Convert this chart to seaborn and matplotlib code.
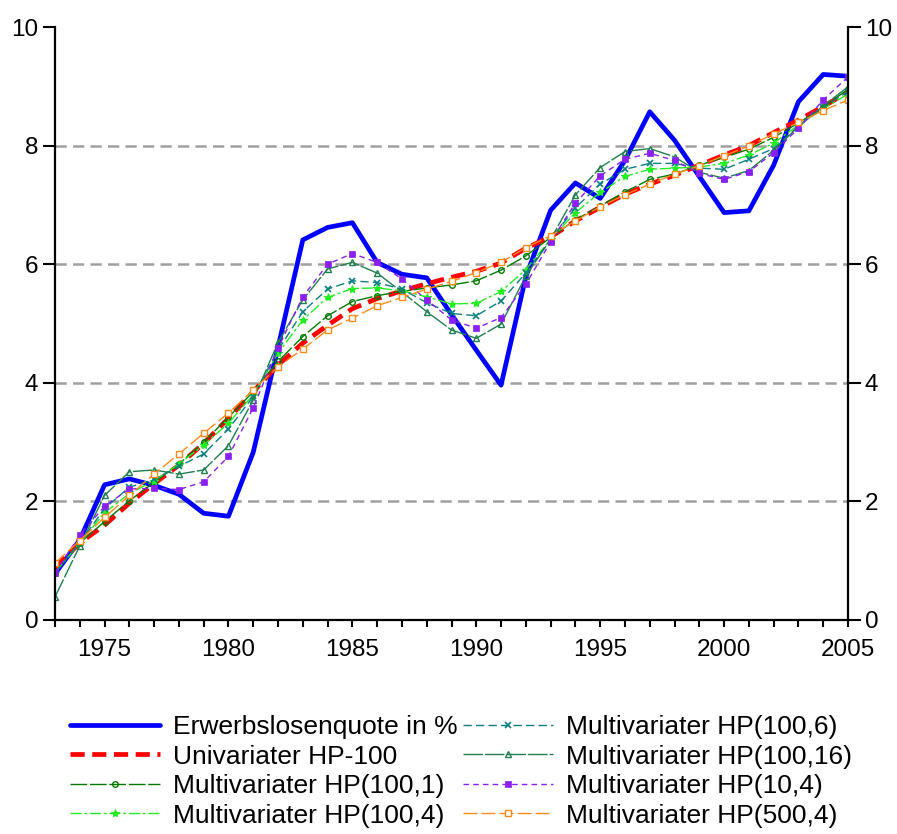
import numpy as np
import pandas as pd
import matplotlib
matplotlib.use("Agg")
import matplotlib.pyplot as plt
import seaborn as sns

years = list(range(1973, 2006))

erwerbslosenquote = [0.78, 1.35, 2.28, 2.38, 2.27, 2.12, 1.80, 1.75, 2.83, 4.60, 6.41, 6.62, 6.70,
                     6.03, 5.83, 5.77, 5.15, 4.55, 3.96, 5.79, 6.91, 7.37, 7.11, 7.75, 8.57, 8.09,
                     7.48, 6.87, 6.90, 7.67, 8.74, 9.20, 9.17]
uni_hp100 = [0.88, 1.30, 1.60, 1.97, 2.30, 2.61, 2.98, 3.40, 3.85, 4.30, 4.67, 4.97, 5.25,
             5.42, 5.55, 5.67, 5.78, 5.88, 6.02, 6.27, 6.46, 6.73, 6.96, 7.18, 7.35, 7.50,
             7.67, 7.84, 8.00, 8.22, 8.43, 8.66, 8.90]
mhp_100_1 = [0.80, 1.30, 1.66, 2.01, 2.32, 2.63, 3.00, 3.42, 3.85, 4.36, 4.78, 5.13, 5.37,
             5.47, 5.54, 5.60, 5.65, 5.72, 5.90, 6.14, 6.45, 6.75, 6.98, 7.22, 7.43, 7.52,
             7.67, 7.80, 7.94, 8.14, 8.38, 8.65, 8.95]
mhp_100_4 = [0.80, 1.30, 1.81, 2.13, 2.35, 2.63, 2.95, 3.32, 3.80, 4.50, 5.06, 5.44, 5.59,
             5.60, 5.55, 5.45, 5.33, 5.34, 5.54, 5.91, 6.42, 6.87, 7.21, 7.48, 7.60, 7.62,
             7.64, 7.70, 7.84, 8.04, 8.35, 8.62, 8.87]
mhp_100_6 = [0.80, 1.30, 1.88, 2.24, 2.37, 2.59, 2.80, 3.22, 3.77, 4.55, 5.20, 5.58, 5.72,
             5.69, 5.58, 5.35, 5.17, 5.13, 5.38, 5.85, 6.42, 6.95, 7.35, 7.60, 7.70, 7.70,
             7.62, 7.60, 7.77, 7.95, 8.33, 8.65, 8.91]
mhp_100_16 = [0.39, 1.25, 2.10, 2.50, 2.53, 2.46, 2.53, 2.94, 3.71, 4.68, 5.40, 5.92, 6.03,
              5.85, 5.53, 5.20, 4.89, 4.75, 4.99, 5.80, 6.42, 7.17, 7.63, 7.90, 7.95, 7.81,
              7.55, 7.45, 7.58, 7.92, 8.32, 8.67, 8.99]
mhp_10_4 = [0.79, 1.43, 1.92, 2.21, 2.22, 2.20, 2.33, 2.76, 3.58, 4.59, 5.45, 6.00, 6.18,
            6.03, 5.75, 5.40, 5.06, 4.92, 5.10, 5.66, 6.38, 7.03, 7.49, 7.77, 7.87, 7.75,
            7.53, 7.43, 7.56, 7.88, 8.29, 8.77, 9.16]
mhp_500_4 = [0.96, 1.34, 1.73, 2.10, 2.46, 2.80, 3.15, 3.49, 3.88, 4.27, 4.57, 4.89, 5.09,
             5.30, 5.44, 5.58, 5.71, 5.86, 6.03, 6.28, 6.48, 6.73, 6.97, 7.17, 7.35, 7.52,
             7.66, 7.83, 7.99, 8.20, 8.39, 8.59, 8.77]

labels = ["Erwerbslosenquote in %", "Univariater HP-100", "Multivariater HP(100,1)",
          "Multivariater HP(100,4)", "Multivariater HP(100,6)", "Multivariater HP(100,16)",
          "Multivariater HP(10,4)", "Multivariater HP(500,4)"]
series = [erwerbslosenquote, uni_hp100, mhp_100_1, mhp_100_4, mhp_100_6, mhp_100_16,
          mhp_10_4, mhp_500_4]

x_tick_labels = ["1975", "1980", "1985", "1990", "1995", "2000", "2005"]
y_ticks = [0, 2, 4, 6, 8, 10]

styles = [
    dict(color="#0000ff", lw=3.4, ls="-", marker=None),
    dict(color="#ff0000", lw=3.4, ls=(0, (3, 1.6)), marker=None),
    dict(color="#007a00", lw=1.0, ls=(0, (12, 2)), marker="o", ms=4, mfc="none", mew=1.0),
    dict(color="#22ee22", lw=1.0, ls=(0, (8, 2, 2, 2)), marker="*", ms=6, mfc="#22ee22", mew=0.8),
    dict(color="#0a8080", lw=1.0, ls=(0, (6, 3)), marker="x", ms=4.5, mfc="none", mew=1.2),
    dict(color="#1f7f4f", lw=1.0, ls=(0, (14, 1.5)), marker="^", ms=4.5, mfc="none", mew=1.0),
    dict(color="#8a1ff0", lw=1.0, ls=(0, (4, 3)), marker="s", ms=5, mfc="#8a1ff0", mew=0.5),
    dict(color="#ff8a1a", lw=1.0, ls=(0, (10, 3)), marker="s", ms=4.5, mfc="white", mew=1.0),
]

sns.set_theme(style="white")
plt.rcParams["font.family"] = ["Liberation Sans", "DejaVu Sans"]
plt.rcParams["text.color"] = "black"
plt.rcParams["xtick.color"] = "black"
plt.rcParams["ytick.color"] = "black"
plt.rcParams["xtick.labelcolor"] = "black"
plt.rcParams["ytick.labelcolor"] = "black"

fig = plt.figure(figsize=(8.97, 8.34), dpi=100)
ax = fig.add_axes([55/897, 1 - 620/834, (848-55)/897, (620-27)/834])

for vals, lab, st in zip(series, labels, styles):
    df = pd.DataFrame({"Jahr": years, "Wert": vals})
    kw = dict(color=st["color"], linewidth=st["lw"], linestyle=st["ls"])
    if st["marker"] is not None:
        kw.update(marker=st["marker"], markersize=st["ms"], markerfacecolor=st["mfc"],
                  markeredgecolor=st["color"], markeredgewidth=st["mew"])
    sns.lineplot(data=df, x="Jahr", y="Wert", ax=ax, label=lab, **kw)

ax.set_xlim(years[0], years[-1])
ax.set_ylim(y_ticks[0], y_ticks[-1])
ax.set_xlabel("")
ax.set_ylabel("")

# grid lines
for yv in y_ticks[1:-1]:
    ax.axhline(yv, color="#a0a0a0", lw=1.8, ls=(0, (4.5, 2.5)), zorder=0)

ax.set_xticks(years, minor=False)
ax.set_xticklabels([str(y) if str(y) in x_tick_labels else "" for y in years])
ax.set_yticks(y_ticks)
ax.set_yticklabels([str(v) for v in y_ticks])

ax.tick_params(axis="x", direction="out", length=5, width=1.5, color="black",
               labelcolor="black", labelsize=17.5, pad=9, bottom=True)
ax.tick_params(axis="y", direction="out", length=9, width=1.5, color="black",
               labelcolor="black", labelsize=17.5, pad=3, left=True, right=True,
               labelleft=True, labelright=True)

for side in ["left", "right", "bottom"]:
    ax.spines[side].set_visible(True)
    ax.spines[side].set_color("black")
    ax.spines[side].set_linewidth(1.6)
ax.spines["top"].set_visible(False)

handles, labs = ax.get_legend_handles_labels()
leg = ax.legend(handles, labs, loc="upper left", bbox_to_anchor=(70/897, 1 - 715/834),
                bbox_transform=fig.transFigure, ncol=2, frameon=False, borderpad=0,
                borderaxespad=0, handlelength=3.4, handletextpad=0.5, columnspacing=0.2,
                labelspacing=0.21, fontsize=19)
for t in leg.get_texts():
    t.set_color("black")

fig.savefig("out.png", dpi=100)
